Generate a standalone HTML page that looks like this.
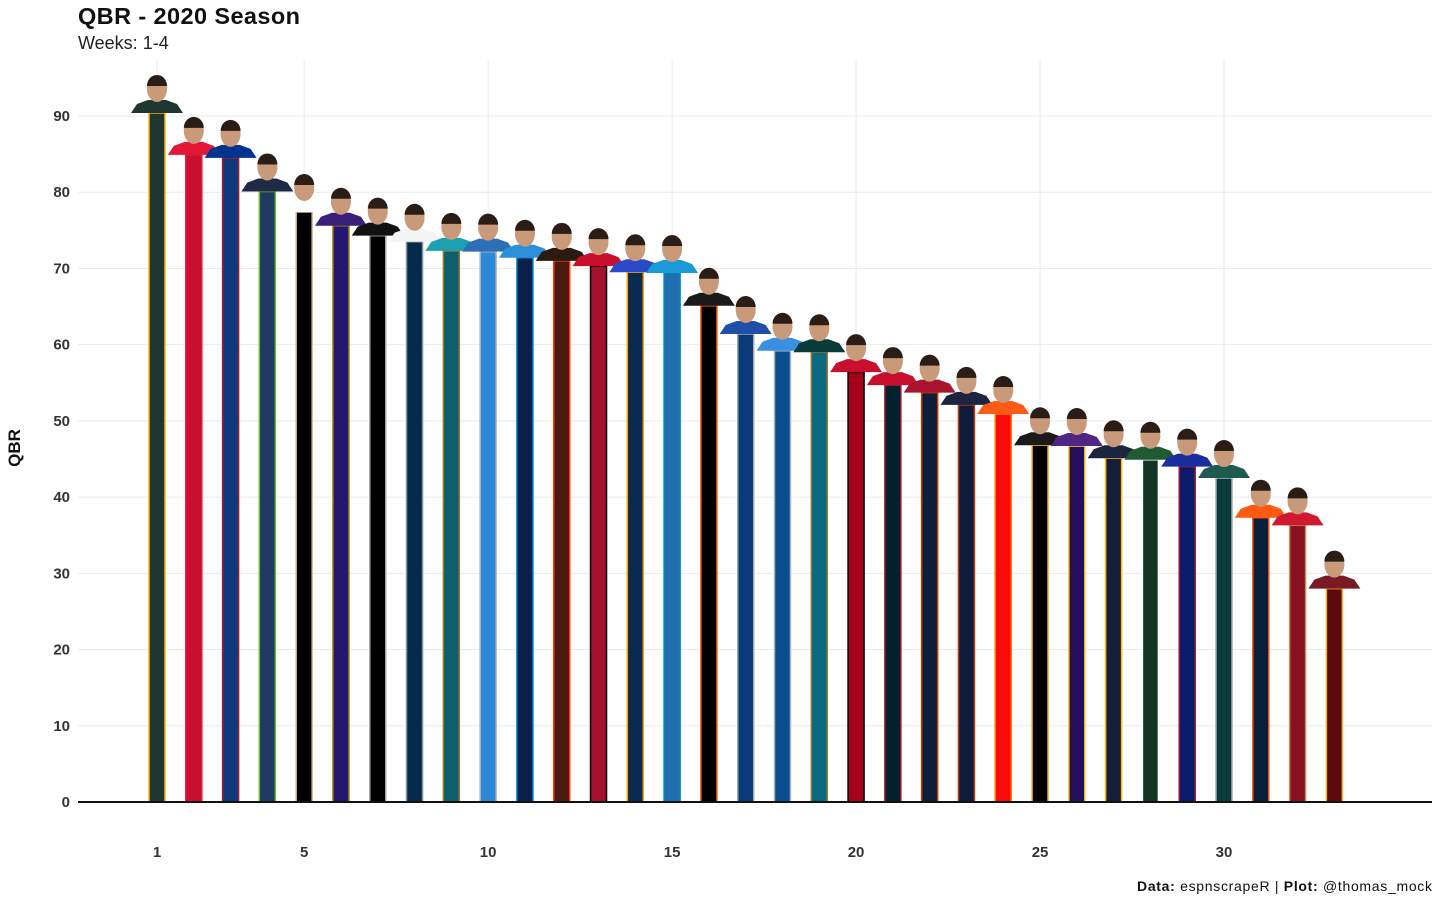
<!DOCTYPE html>
<html><head><meta charset="utf-8"><style>
body{margin:0;background:#fff;font-family:"Liberation Sans",sans-serif;}
svg{display:block}
</style></head><body>
<svg id="chart" width="1440" height="900" viewBox="0 0 1440 900" xmlns="http://www.w3.org/2000/svg">
<text x="78" y="24" font-size="23.5" font-weight="bold" fill="#111" textLength="222">QBR - 2020 Season</text>
<text x="78" y="49" font-size="18" fill="#222">Weeks: 1-4</text>
<text transform="translate(20,448) rotate(-90)" text-anchor="middle" font-size="17" font-weight="bold" fill="#111">QBR</text>
<text x="1432" y="891" text-anchor="end" font-size="14" fill="#111" textLength="295"><tspan font-weight="bold">Data:</tspan> espnscrapeR | <tspan font-weight="bold">Plot:</tspan> @thomas_mock</text>
<g id="grid"></g><g id="bars"></g><g id="axes"></g>
</svg>
<script>
const ranks=[1,2,3,4,5,6,7,8,9,10,11,12,13,14,15,16,17,18,19,20,21,22,23,24,25,26,27,28,29,30,31,32,33];
const qbr=[90.4,84.9,84.5,80.1,77.4,75.6,74.3,73.5,72.3,72.2,71.4,71.0,70.3,69.5,69.4,65.1,61.4,59.2,59.0,56.4,54.7,53.7,52.1,50.9,46.8,46.7,45.1,44.9,44.0,42.5,37.3,36.3,28.0];
const fills=["#203731","#C8102E","#0C3A7A","#1F3A5F","#000000","#241773","#000000","#062A4A","#0E5F6B","#2C88D9","#0B1F4B","#4A1A10","#A5122D","#0B2A52","#2070B0","#000000","#0A3A7A","#0B4E8E","#0B6A80","#A5001A","#03202F","#0B1F3A","#101A3A","#FB0A0A","#000000","#240F5A","#141E3A","#123524","#0B1A6A","#0A3A3A","#0B1F3A","#8A1020","#5A0A0A"];
const outlines=["#FFB612","#E31837","#C60C30","#69BE28","#D3BC8D","#9E7C0C","#A5ACAF","#869397","#9F792C","#B0B7BC","#0080C6","#FF3C00","#000000","#FFA300","#0085CA","#FB4F14","#A2AAAD","#B0B7BC","#9F792C","#000000","#A71930","#C83803","#C83803","#FF7900","#FFB612","#FFC62F","#FFB612","#FFFFFF","#A71930","#A5ACAF","#FB4F14","#B3995D","#FFB612"];
const jerseys=["#203731","#E31837","#00338D","#1F2A44","#FFFFFF","#3A1F7A","#111111","#F4F4F4","#1AA0B0","#2D6FB7","#2C8FD9","#2B1A10","#C8102E","#2949C8","#1A9AD6","#1A1A1A","#1F4FA8","#3A8FE0","#0B3A3A","#C8102E","#C8102E","#A8142E","#1C2540","#FF5A14","#1A1A1A","#4F2683","#1C2540","#1F5A32","#1A2EA0","#1F5A4E","#FF5A14","#D01830","#7A1A24"];
const yTicks=[0,10,20,30,40,50,60,70,80,90];
const xTicks=[1,5,10,15,20,25,30];
const NS="http://www.w3.org/2000/svg";
const xS=v=>157+(v-1)*(1224-157)/29;
const yS=v=>802-v*(802-116)/90;
function mk(tag,attrs,parent){const e=document.createElementNS(NS,tag);for(const k in attrs)e.setAttribute(k,attrs[k]);parent.appendChild(e);return e;}
const grid=document.getElementById('grid'),bars=document.getElementById('bars'),axes=document.getElementById('axes');
yTicks.forEach(t=>{
 const l=mk('line',{x1:78,x2:1432,y1:yS(t),y2:yS(t),stroke:'#ebebeb','stroke-width':1},grid);
 
 
 const tx=mk('text',{x:70,y:yS(t)+5,'text-anchor':'end','font-size':15,'font-weight':'bold',fill:'#333'},axes);
 tx.textContent=t;
 
 
});
xTicks.forEach(t=>{
 const l=mk('line',{x1:xS(t),x2:xS(t),y1:60,y2:802,stroke:'#ebebeb','stroke-width':1},grid);
 
 
 const tx=mk('text',{x:xS(t),y:857,'text-anchor':'middle','font-size':15,'font-weight':'bold',fill:'#333'},axes);
 tx.textContent=t;
 
 
});
ranks.forEach((r,i)=>{
 const x=xS(r),y=yS(qbr[i]);
 const g=mk('g',{},bars);
 
 
 mk('rect',{x:x-8,y:y,width:16,height:802-y,fill:fills[i],stroke:outlines[i],'stroke-width':1.5},g);
 mk('path',{d:`M${x-26} ${y} L${x-20} ${y-9} L${x-9} ${y-13} L${x+9} ${y-13} L${x+20} ${y-9} L${x+26} ${y} Z`,fill:jerseys[i]},g);
 mk('ellipse',{cx:x,cy:y-24,rx:10,ry:13,fill:'#c99a7a'},g);
 mk('path',{d:`M${x-10} ${y-27} A10 11 0 0 1 ${x+10} ${y-27} Z`,fill:'#2a1d16'},g);
});
const ax=mk('line',{x1:78,x2:1432,y1:802,y2:802,stroke:'#111','stroke-width':2},axes);


</script>
</body></html>
